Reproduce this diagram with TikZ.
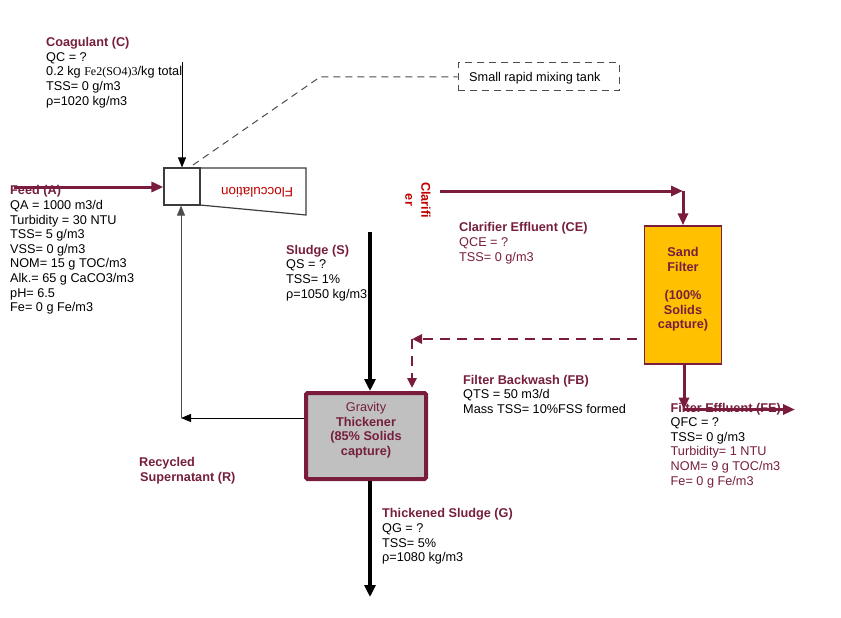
\documentclass[tikz,border=0pt]{standalone}
\usepackage{fontspec}
\setmainfont{Liberation Sans}
\newfontfamily\serifx{Liberation Serif}
\usetikzlibrary{arrows.meta}
\definecolor{mline}{RGB}{122,28,62}
\definecolor{mtext}{RGB}{118,30,62}
\definecolor{redt}{RGB}{192,0,0}
\definecolor{sandc}{RGB}{255,192,0}
\definecolor{thickc}{RGB}{192,192,192}
\definecolor{boxc}{RGB}{60,60,60}
\tikzset{
  lbl/.style={anchor=base west, inner sep=0pt, align=left},
  marrow/.style={draw=mline, line width=3pt, -{Triangle[length=12pt,width=10pt]}},
  blackarrow/.style={draw=black, line width=3.5pt, -{Triangle[length=12pt,width=11pt]}},
  thinarrow/.style={draw=black, line width=1pt, -{Triangle[length=10pt,width=8pt]}},
  dasharrow/.style={draw=mline, line width=2.5pt, dash pattern=on 10pt off 7pt, -{Triangle[length=10pt,width=9pt]}},
  notebox/.style={draw=gray!60!black, line width=1pt, dash pattern=on 7pt off 5pt, inner sep=0pt},
}
\begin{document}
\begin{tikzpicture}[x=1pt,y=-1pt,font=\fontsize{12.7}{14.6}\selectfont]
\useasboundingbox (0,0) rectangle (841,618);

% ---------- text blocks (anchor = baseline of last line) ----------
\node[lbl] (coagtxt) at (46,105) {{\color{mtext}\bfseries Coagulant (C)}\\QC = ?\\0.2 kg {\serifx\fontsize{12}{14.6}\selectfont Fe2(SO4)3}/kg total\\TSS= 0 g/m3\\ρ=1020 kg/m3};
\node[lbl] (feedtxt) at (10,311.7) {{\color{mtext}\bfseries Feed (A)}\\QA = 1000 m3/d\\Turbidity = 30 NTU\\TSS= 5 g/m3\\VSS= 0 g/m3\\NOM= 15 g TOC/m3\\Alk.= 65 g CaCO3/m3\\pH= 6.5\\Fe= 0 g Fe/m3};
\node[lbl] (sludgetxt) at (286,298) {{\color{mtext}\bfseries Sludge (S)}\\QS = ?\\TSS= 1\%\\ρ=1050 kg/m3};
\node[lbl, text=mtext] (cetxt) at (459,261) {{\bfseries Clarifier Effluent (CE)}\\QCE = ?\\TSS= 0 g/m3};
\node[lbl] (fbtxt) at (463,413.3) {{\color{mtext}\bfseries Filter Backwash (FB)}\\QTS = 50 m3/d\\Mass TSS= 10\%FSS formed};
\node[lbl] (fetxt) at (670.5,485) {{\color{mtext}\bfseries Filter Effluent (FE)}\\QFC = ?\\TSS= 0 g/m3\\{\color{mtext}Turbidity= 1 NTU}\\{\color{mtext}NOM= 9 g TOC/m3}\\{\color{mtext}Fe= 0 g Fe/m3}};
\node[lbl] (tstxt) at (382,561.7) {{\color{mtext}\bfseries Thickened Sludge (G)}\\QG = ?\\TSS= 5\%\\ρ=1080 kg/m3};
\node[lbl, text=mtext, font=\bfseries\fontsize{12.7}{15}\selectfont] (rstxt) at (139,481.7) {Recycled\\\hspace*{1pt}Supernatant (R)};
\node[inner sep=0pt, rotate=-90, align=center, text=redt, font=\bfseries\fontsize{12.7}{16}\selectfont] (cltxt) at (418,200) {Clarifi\\er};

% ---------- units ----------
\node[draw=boxc, line width=1.2pt, minimum width=36pt, minimum height=37pt, inner sep=0pt] (mix) at (182,186.5) {};
\coordinate (f1) at (200,168);
\coordinate (f2) at (306,168);
\coordinate (f3) at (306,215);
\coordinate (f4) at (200,205);
\draw[boxc, line width=1.2pt] (f1) -- (f2) -- (f3) -- (f4);
\node[rotate=180, text=redt, inner sep=0pt, font=\fontsize{13.5}{15}\selectfont] (floclbl) at (257,192) {Flocculation};

\node[notebox, minimum width=161pt, minimum height=28pt] (note) at (538.5,77) {};
\node[inner sep=0pt, anchor=base west] (notetxt) at (469,81.5) {Small rapid mixing tank};

\node[draw=mline, fill=sandc, line width=1.5pt, minimum width=77pt, minimum height=138pt, inner sep=0pt] (sand) at (683,295) {};
\node[inner sep=0pt, anchor=base, align=center, text=mtext, font=\bfseries\fontsize{12.7}{14.3}\selectfont] (sandtxt) at (683,328.3) {Sand\\Filter\\[14.3pt](100\%\\Solids\\capture)};

\node[draw=mline, fill=thickc, line width=4pt, rounded corners=1.5pt, minimum width=120pt, minimum height=86pt, inner sep=0pt] (thick) at (366,436) {};
\node[inner sep=0pt, anchor=base, align=center, text=mtext, font=\bfseries\fontsize{12.7}{14.4}\selectfont] (thicktxt) at (366,455) {{\mdseries Gravity}\\Thickener\\(85\% Solids\\capture)};

% ---------- connectors ----------
\coordinate (dl1) at (193,165);
\coordinate (dl2) at (320,77);
\draw[gray!60!black, line width=1pt, dash pattern=on 7pt off 5pt] (dl1) -- (dl2) -- (note.west);

\coordinate (cin) at (182,62);
\draw[thinarrow] (cin) -- (mix.north);

\coordinate (feedin) at (14,187);
\draw[marrow] (feedin) -- (feedin -| mix.west);

\coordinate (rcs) at (304,418);
\coordinate (rc) at (181,418);
\draw[thinarrow] (rcs) -- (rc);
\draw[thinarrow, draw=black!70] (rc) -- (rc |- mix.south);

\coordinate (sin) at (370,232);
\draw[blackarrow] (sin) -- (370,391);
\coordinate (sout) at (370,597);
\draw[blackarrow] (370,481) -- (sout);

\coordinate (cl1) at (440,191);
\coordinate (cl2) at (683,191);
\draw[marrow] (cl1) -- (cl2);
\draw[marrow] (cl2) -- (sand.north);

\coordinate (bw1) at (637,339);
\coordinate (bw2) at (412,339);
\coordinate (bw3) at (412,388);
\draw[dasharrow] (bw1) -- (bw2);
\draw[dasharrow] (bw2) -- (bw3);

\coordinate (fe1) at (684,409.5);
\coordinate (fe2) at (795,409.5);
\draw[marrow] (sand.south -| fe1) -- (fe1);
\draw[marrow] (fe1) -- (fe2);
\end{tikzpicture}
\end{document}
